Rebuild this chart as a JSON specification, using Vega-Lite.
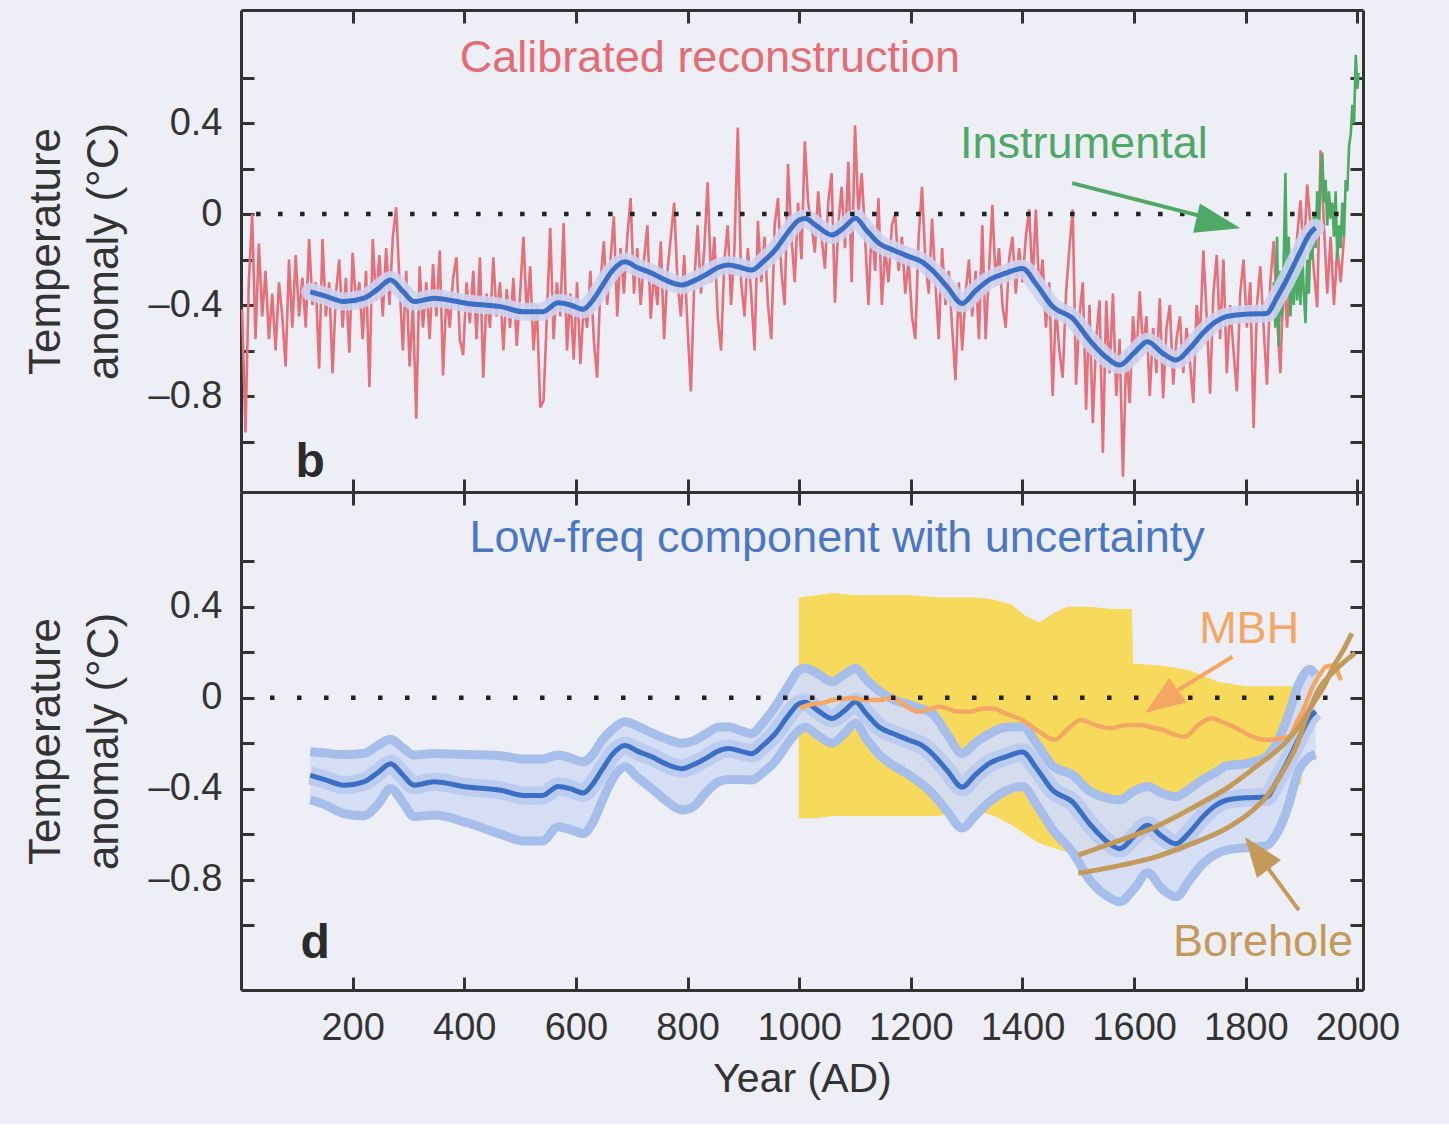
{
"$schema": "https://vega.github.io/schema/vega-lite/v6.json",
"background": "#eeeef7",
"padding": {"left": 24, "top": 8, "right": 80, "bottom": 25},
"spacing": 0,
"bounds": "flush",
"config": {
 "font": "Liberation Sans",
 "view": {"stroke": null},
 "axis": {"domainColor": "#333333", "domainWidth": 3, "tickColor": "#333333", "tickWidth": 3, "tickSize": -13, "labelPadding": 32, "labelFont": "Liberation Sans", "labelFontSize": 38, "labelColor": "#333333", "titleFont": "Liberation Sans", "titleFontSize": 44, "titleColor": "#333333", "titleFontWeight": "normal", "grid": false, "labelFlush": false, "labelOverlap": false, "titleLineHeight": 58, "titlePadding": 22}
},
"datasets": {
 "red": [
{"yr":2,"v":-0.42},{"yr":8,"v":-0.96},{"yr":14,"v":-0.30},{"yr":20,"v":0.0},{"yr":26,"v":-0.55},{"yr":32,"v":-0.13},{"yr":38,"v":-0.45},{"yr":44,"v":-0.25},{"yr":50,"v":-0.55},{"yr":56,"v":-0.35},{"yr":62,"v":-0.60},{"yr":68,"v":-0.30},{"yr":74,"v":-0.45},{"yr":80,"v":-0.67},{"yr":86,"v":-0.20},{"yr":92,"v":-0.50},{"yr":98,"v":-0.18},{"yr":104,"v":-0.45},{"yr":110,"v":-0.28},{"yr":116,"v":-0.50},{"yr":122,"v":-0.11},{"yr":128,"v":-0.40},{"yr":134,"v":-0.30},{"yr":140,"v":-0.68},{"yr":146,"v":-0.11},{"yr":152,"v":-0.45},{"yr":158,"v":-0.30},{"yr":164,"v":-0.70},{"yr":170,"v":-0.35},{"yr":176,"v":-0.20},{"yr":182,"v":-0.50},{"yr":188,"v":-0.28},{"yr":194,"v":-0.61},{"yr":200,"v":-0.17},{"yr":206,"v":-0.40},{"yr":212,"v":-0.30},{"yr":218,"v":-0.55},{"yr":224,"v":-0.25},{"yr":230,"v":-0.76},{"yr":236,"v":-0.11},{"yr":242,"v":-0.38},{"yr":248,"v":-0.18},{"yr":254,"v":-0.45},{"yr":260,"v":-0.15},{"yr":266,"v":-0.40},{"yr":272,"v":-0.10},{"yr":278,"v":0.03},{"yr":284,"v":-0.30},{"yr":290,"v":-0.60},{"yr":296,"v":-0.25},{"yr":302,"v":-0.67},{"yr":308,"v":-0.40},{"yr":314,"v":-0.90},{"yr":320,"v":-0.23},{"yr":326,"v":-0.50},{"yr":332,"v":-0.30},{"yr":338,"v":-0.55},{"yr":344,"v":-0.22},{"yr":350,"v":-0.45},{"yr":356,"v":-0.16},{"yr":362,"v":-0.71},{"yr":368,"v":-0.35},{"yr":374,"v":-0.50},{"yr":380,"v":-0.28},{"yr":386,"v":-0.19},{"yr":392,"v":-0.55},{"yr":398,"v":-0.62},{"yr":404,"v":-0.30},{"yr":410,"v":-0.48},{"yr":416,"v":-0.25},{"yr":422,"v":-0.55},{"yr":428,"v":-0.19},{"yr":434,"v":-0.72},{"yr":440,"v":-0.35},{"yr":446,"v":-0.50},{"yr":452,"v":-0.19},{"yr":458,"v":-0.45},{"yr":464,"v":-0.30},{"yr":470,"v":-0.60},{"yr":476,"v":-0.33},{"yr":482,"v":-0.50},{"yr":488,"v":-0.28},{"yr":494,"v":-0.58},{"yr":500,"v":-0.35},{"yr":506,"v":-0.10},{"yr":512,"v":-0.45},{"yr":518,"v":-0.23},{"yr":524,"v":-0.60},{"yr":530,"v":-0.40},{"yr":536,"v":-0.85},{"yr":542,"v":-0.82},{"yr":548,"v":-0.45},{"yr":554,"v":-0.06},{"yr":560,"v":-0.55},{"yr":566,"v":-0.30},{"yr":572,"v":-0.45},{"yr":578,"v":-0.04},{"yr":584,"v":-0.60},{"yr":590,"v":-0.35},{"yr":596,"v":-0.64},{"yr":602,"v":-0.30},{"yr":608,"v":-0.66},{"yr":614,"v":-0.40},{"yr":620,"v":-0.50},{"yr":626,"v":-0.25},{"yr":632,"v":-0.55},{"yr":638,"v":-0.72},{"yr":644,"v":-0.30},{"yr":650,"v":-0.12},{"yr":656,"v":-0.40},{"yr":662,"v":-0.20},{"yr":668,"v":-0.01},{"yr":674,"v":-0.45},{"yr":680,"v":-0.15},{"yr":686,"v":-0.35},{"yr":692,"v":-0.10},{"yr":698,"v":0.07},{"yr":704,"v":-0.35},{"yr":710,"v":-0.15},{"yr":716,"v":-0.40},{"yr":722,"v":-0.20},{"yr":728,"v":-0.05},{"yr":734,"v":-0.46},{"yr":740,"v":-0.25},{"yr":746,"v":-0.40},{"yr":752,"v":-0.12},{"yr":758,"v":-0.55},{"yr":764,"v":-0.25},{"yr":770,"v":-0.10},{"yr":776,"v":0.05},{"yr":782,"v":-0.30},{"yr":788,"v":-0.45},{"yr":794,"v":-0.18},{"yr":800,"v":-0.50},{"yr":806,"v":-0.78},{"yr":812,"v":-0.30},{"yr":818,"v":-0.05},{"yr":824,"v":-0.35},{"yr":830,"v":-0.15},{"yr":836,"v":0.14},{"yr":842,"v":-0.30},{"yr":848,"v":-0.10},{"yr":854,"v":-0.45},{"yr":860,"v":-0.60},{"yr":866,"v":-0.20},{"yr":872,"v":-0.05},{"yr":878,"v":-0.40},{"yr":884,"v":-0.15},{"yr":890,"v":0.38},{"yr":896,"v":-0.30},{"yr":902,"v":-0.45},{"yr":908,"v":-0.15},{"yr":914,"v":-0.35},{"yr":920,"v":-0.60},{"yr":926,"v":-0.03},{"yr":932,"v":-0.30},{"yr":938,"v":-0.10},{"yr":944,"v":-0.40},{"yr":950,"v":-0.55},{"yr":956,"v":-0.05},{"yr":962,"v":0.07},{"yr":968,"v":-0.25},{"yr":974,"v":-0.40},{"yr":980,"v":0.22},{"yr":986,"v":-0.10},{"yr":992,"v":-0.30},{"yr":998,"v":0.05},{"yr":1004,"v":-0.20},{"yr":1010,"v":0.32},{"yr":1016,"v":0.05},{"yr":1022,"v":-0.05},{"yr":1028,"v":-0.17},{"yr":1034,"v":0.10},{"yr":1040,"v":-0.10},{"yr":1046,"v":-0.24},{"yr":1052,"v":0.05},{"yr":1058,"v":0.18},{"yr":1064,"v":-0.39},{"yr":1070,"v":-0.05},{"yr":1076,"v":0.12},{"yr":1082,"v":-0.15},{"yr":1088,"v":0.23},{"yr":1094,"v":-0.30},{"yr":1100,"v":0.39},{"yr":1106,"v":0.00},{"yr":1112,"v":0.18},{"yr":1118,"v":-0.10},{"yr":1124,"v":-0.40},{"yr":1130,"v":-0.05},{"yr":1136,"v":-0.25},{"yr":1142,"v":0.07},{"yr":1148,"v":-0.40},{"yr":1154,"v":-0.15},{"yr":1160,"v":-0.30},{"yr":1166,"v":-0.05},{"yr":1172,"v":0.00},{"yr":1178,"v":-0.25},{"yr":1184,"v":-0.10},{"yr":1190,"v":-0.35},{"yr":1196,"v":-0.20},{"yr":1202,"v":-0.45},{"yr":1208,"v":-0.55},{"yr":1214,"v":-0.10},{"yr":1220,"v":0.12},{"yr":1226,"v":-0.20},{"yr":1232,"v":-0.35},{"yr":1238,"v":-0.02},{"yr":1244,"v":-0.30},{"yr":1250,"v":-0.55},{"yr":1256,"v":-0.15},{"yr":1262,"v":-0.40},{"yr":1268,"v":-0.25},{"yr":1274,"v":-0.50},{"yr":1280,"v":-0.73},{"yr":1286,"v":-0.30},{"yr":1292,"v":-0.60},{"yr":1298,"v":-0.35},{"yr":1304,"v":-0.20},{"yr":1310,"v":-0.45},{"yr":1316,"v":-0.25},{"yr":1322,"v":-0.55},{"yr":1328,"v":-0.05},{"yr":1334,"v":-0.55},{"yr":1340,"v":-0.25},{"yr":1346,"v":0.04},{"yr":1352,"v":-0.30},{"yr":1358,"v":-0.15},{"yr":1364,"v":-0.40},{"yr":1370,"v":-0.50},{"yr":1376,"v":-0.20},{"yr":1382,"v":-0.10},{"yr":1388,"v":-0.35},{"yr":1394,"v":-0.15},{"yr":1400,"v":-0.30},{"yr":1406,"v":-0.10},{"yr":1412,"v":0.02},{"yr":1418,"v":-0.30},{"yr":1424,"v":0.02},{"yr":1430,"v":-0.35},{"yr":1436,"v":-0.20},{"yr":1442,"v":-0.50},{"yr":1448,"v":-0.30},{"yr":1454,"v":-0.80},{"yr":1460,"v":-0.40},{"yr":1466,"v":-0.60},{"yr":1472,"v":-0.72},{"yr":1478,"v":-0.35},{"yr":1484,"v":-0.15},{"yr":1490,"v":0.02},{"yr":1496,"v":-0.75},{"yr":1502,"v":-0.45},{"yr":1508,"v":-0.30},{"yr":1514,"v":-0.86},{"yr":1520,"v":-0.40},{"yr":1526,"v":-0.92},{"yr":1532,"v":-0.55},{"yr":1538,"v":-0.38},{"yr":1544,"v":-1.05},{"yr":1550,"v":-0.38},{"yr":1556,"v":-0.70},{"yr":1562,"v":-0.35},{"yr":1568,"v":-0.80},{"yr":1574,"v":-0.55},{"yr":1580,"v":-1.155},{"yr":1586,"v":-0.60},{"yr":1592,"v":-0.83},{"yr":1598,"v":-0.45},{"yr":1604,"v":-0.65},{"yr":1610,"v":-0.34},{"yr":1616,"v":-0.60},{"yr":1622,"v":-0.45},{"yr":1628,"v":-0.80},{"yr":1634,"v":-0.50},{"yr":1640,"v":-0.70},{"yr":1646,"v":-0.37},{"yr":1652,"v":-0.81},{"yr":1658,"v":-0.50},{"yr":1664,"v":-0.40},{"yr":1670,"v":-0.75},{"yr":1676,"v":-0.55},{"yr":1682,"v":-0.45},{"yr":1688,"v":-0.70},{"yr":1694,"v":-0.50},{"yr":1700,"v":-0.65},{"yr":1706,"v":-0.83},{"yr":1712,"v":-0.40},{"yr":1718,"v":-0.55},{"yr":1724,"v":-0.16},{"yr":1730,"v":-0.45},{"yr":1736,"v":-0.79},{"yr":1742,"v":-0.35},{"yr":1748,"v":-0.18},{"yr":1754,"v":-0.55},{"yr":1760,"v":-0.20},{"yr":1766,"v":-0.70},{"yr":1772,"v":-0.40},{"yr":1778,"v":-0.60},{"yr":1784,"v":-0.78},{"yr":1790,"v":-0.35},{"yr":1796,"v":-0.20},{"yr":1802,"v":-0.50},{"yr":1808,"v":-0.30},{"yr":1814,"v":-0.94},{"yr":1820,"v":-0.40},{"yr":1826,"v":-0.23},{"yr":1832,"v":-0.50},{"yr":1838,"v":-0.75},{"yr":1844,"v":-0.30},{"yr":1850,"v":-0.12},{"yr":1856,"v":-0.45},{"yr":1862,"v":-0.70},{"yr":1868,"v":-0.25},{"yr":1874,"v":-0.50},{"yr":1880,"v":-0.20},{"yr":1886,"v":-0.35},{"yr":1892,"v":-0.10},{"yr":1898,"v":0.06},{"yr":1904,"v":-0.20},{"yr":1910,"v":0.13},{"yr":1916,"v":-0.05},{"yr":1922,"v":-0.25},{"yr":1928,"v":-0.41},{"yr":1934,"v":0.28},{"yr":1940,"v":-0.05},{"yr":1946,"v":-0.35},{"yr":1952,"v":-0.10},{"yr":1958,"v":-0.40},{"yr":1964,"v":-0.15},{"yr":1970,"v":-0.30},{"yr":1976,"v":-0.10}
 ],
 "green": [
{"yr":1850,"v":-0.30},{"yr":1853,"v":-0.50},{"yr":1856,"v":-0.10},{"yr":1859,"v":-0.58},{"yr":1862,"v":-0.25},{"yr":1865,"v":-0.45},{"yr":1868,"v":-0.20},{"yr":1871,"v":0.18},{"yr":1874,"v":-0.35},{"yr":1877,"v":-0.10},{"yr":1880,"v":-0.45},{"yr":1883,"v":-0.25},{"yr":1886,"v":-0.40},{"yr":1889,"v":-0.15},{"yr":1892,"v":-0.38},{"yr":1895,"v":-0.20},{"yr":1898,"v":-0.40},{"yr":1901,"v":-0.15},{"yr":1904,"v":-0.35},{"yr":1907,"v":-0.48},{"yr":1910,"v":-0.20},{"yr":1913,"v":-0.35},{"yr":1916,"v":-0.10},{"yr":1919,"v":-0.20},{"yr":1922,"v":0.0},{"yr":1925,"v":-0.15},{"yr":1928,"v":0.10},{"yr":1931,"v":-0.05},{"yr":1934,"v":0.15},{"yr":1937,"v":0.27},{"yr":1940,"v":0.05},{"yr":1943,"v":0.15},{"yr":1946,"v":-0.05},{"yr":1949,"v":0.10},{"yr":1952,"v":-0.02},{"yr":1955,"v":0.05},{"yr":1958,"v":-0.10},{"yr":1961,"v":0.10},{"yr":1964,"v":-0.20},{"yr":1967,"v":-0.05},{"yr":1970,"v":-0.15},{"yr":1973,"v":0.05},{"yr":1976,"v":-0.10},{"yr":1979,"v":0.15},{"yr":1982,"v":0.10},{"yr":1985,"v":0.30},{"yr":1988,"v":0.35},{"yr":1991,"v":0.48},{"yr":1994,"v":0.40},{"yr":1997,"v":0.70},{"yr":2000,"v":0.55},{"yr":2002,"v":0.62}
 ],
 "lf": [
{"yr":124,"mid":-0.342,"lo":-0.45,"hi":-0.238},{"yr":150,"mid":-0.36,"lo":-0.47,"hi":-0.243},{"yr":184,"mid":-0.385,"lo":-0.51,"hi":-0.25},{"yr":220,"mid":-0.37,"lo":-0.52,"hi":-0.245},{"yr":245,"mid":-0.33,"lo":-0.47,"hi":-0.21},{"yr":268,"mid":-0.29,"lo":-0.40,"hi":-0.183},{"yr":290,"mid":-0.34,"lo":-0.46,"hi":-0.22},{"yr":310,"mid":-0.385,"lo":-0.523,"hi":-0.252},{"yr":346,"mid":-0.37,"lo":-0.516,"hi":-0.245},{"yr":405,"mid":-0.393,"lo":-0.55,"hi":-0.25},{"yr":465,"mid":-0.407,"lo":-0.60,"hi":-0.255},{"yr":507,"mid":-0.43,"lo":-0.63,"hi":-0.27},{"yr":540,"mid":-0.43,"lo":-0.63,"hi":-0.27},{"yr":568,"mid":-0.39,"lo":-0.567,"hi":-0.252},{"yr":590,"mid":-0.40,"lo":-0.58,"hi":-0.265},{"yr":613,"mid":-0.419,"lo":-0.597,"hi":-0.282},{"yr":630,"mid":-0.38,"lo":-0.55,"hi":-0.25},{"yr":646,"mid":-0.32,"lo":-0.46,"hi":-0.19},{"yr":665,"mid":-0.25,"lo":-0.36,"hi":-0.14},{"yr":688,"mid":-0.21,"lo":-0.304,"hi":-0.106},{"yr":710,"mid":-0.235,"lo":-0.35,"hi":-0.125},{"yr":736,"mid":-0.26,"lo":-0.40,"hi":-0.155},{"yr":760,"mid":-0.29,"lo":-0.45,"hi":-0.18},{"yr":790,"mid":-0.312,"lo":-0.494,"hi":-0.2},{"yr":810,"mid":-0.295,"lo":-0.48,"hi":-0.19},{"yr":832,"mid":-0.268,"lo":-0.42,"hi":-0.16},{"yr":855,"mid":-0.235,"lo":-0.37,"hi":-0.13},{"yr":873,"mid":-0.224,"lo":-0.36,"hi":-0.128},{"yr":895,"mid":-0.235,"lo":-0.36,"hi":-0.145},{"yr":915,"mid":-0.246,"lo":-0.362,"hi":-0.157},{"yr":935,"mid":-0.21,"lo":-0.33,"hi":-0.11},{"yr":957,"mid":-0.158,"lo":-0.28,"hi":-0.04},{"yr":980,"mid":-0.08,"lo":-0.2,"hi":0.05},{"yr":1000,"mid":-0.026,"lo":-0.142,"hi":0.121},{"yr":1011,"mid":-0.02,"lo":-0.13,"hi":0.129},{"yr":1030,"mid":-0.05,"lo":-0.16,"hi":0.11},{"yr":1059,"mid":-0.092,"lo":-0.2,"hi":0.07},{"yr":1080,"mid":-0.06,"lo":-0.16,"hi":0.1},{"yr":1101,"mid":-0.019,"lo":-0.113,"hi":0.129},{"yr":1120,"mid":-0.07,"lo":-0.18,"hi":0.08},{"yr":1143,"mid":-0.129,"lo":-0.25,"hi":0.03},{"yr":1170,"mid":-0.16,"lo":-0.30,"hi":-0.01},{"yr":1197,"mid":-0.187,"lo":-0.34,"hi":-0.03},{"yr":1220,"mid":-0.21,"lo":-0.38,"hi":-0.05},{"yr":1238,"mid":-0.246,"lo":-0.42,"hi":-0.068},{"yr":1265,"mid":-0.32,"lo":-0.50,"hi":-0.16},{"yr":1292,"mid":-0.393,"lo":-0.573,"hi":-0.245},{"yr":1315,"mid":-0.34,"lo":-0.52,"hi":-0.2},{"yr":1340,"mid":-0.29,"lo":-0.46,"hi":-0.16},{"yr":1370,"mid":-0.26,"lo":-0.41,"hi":-0.13},{"yr":1400,"mid":-0.239,"lo":-0.39,"hi":-0.128},{"yr":1425,"mid":-0.31,"lo":-0.47,"hi":-0.2},{"yr":1454,"mid":-0.407,"lo":-0.58,"hi":-0.3},{"yr":1490,"mid":-0.459,"lo":-0.68,"hi":-0.34},{"yr":1520,"mid":-0.554,"lo":-0.80,"hi":-0.41},{"yr":1550,"mid":-0.63,"lo":-0.87,"hi":-0.44},{"yr":1574,"mid":-0.664,"lo":-0.897,"hi":-0.45},{"yr":1600,"mid":-0.61,"lo":-0.84,"hi":-0.41},{"yr":1624,"mid":-0.561,"lo":-0.77,"hi":-0.39},{"yr":1650,"mid":-0.61,"lo":-0.84,"hi":-0.42},{"yr":1675,"mid":-0.642,"lo":-0.875,"hi":-0.435},{"yr":1700,"mid":-0.59,"lo":-0.80,"hi":-0.40},{"yr":1723,"mid":-0.524,"lo":-0.73,"hi":-0.36},{"yr":1745,"mid":-0.475,"lo":-0.69,"hi":-0.33},{"yr":1765,"mid":-0.451,"lo":-0.67,"hi":-0.3},{"yr":1800,"mid":-0.44,"lo":-0.66,"hi":-0.29},{"yr":1837,"mid":-0.437,"lo":-0.65,"hi":-0.26},{"yr":1855,"mid":-0.37,"lo":-0.6,"hi":-0.2},{"yr":1873,"mid":-0.29,"lo":-0.5,"hi":-0.1},{"yr":1895,"mid":-0.18,"lo":-0.32,"hi":0.06},{"yr":1915,"mid":-0.085,"lo":-0.26,"hi":0.125},{"yr":1925,"mid":-0.06,"lo":-0.25,"hi":0.1}
 ],
 "yellow": [
{"yr":999,"top":0.44,"bot":-0.53},{"yr":1030,"top":0.45,"bot":-0.53},{"yr":1060,"top":0.46,"bot":-0.52},{"yr":1100,"top":0.45,"bot":-0.52},{"yr":1150,"top":0.45,"bot":-0.52},{"yr":1200,"top":0.45,"bot":-0.52},{"yr":1250,"top":0.44,"bot":-0.52},{"yr":1280,"top":0.44,"bot":-0.5},{"yr":1320,"top":0.44,"bot":-0.5},{"yr":1350,"top":0.43,"bot":-0.52},{"yr":1380,"top":0.41,"bot":-0.56},{"yr":1405,"top":0.36,"bot":-0.6},{"yr":1430,"top":0.33,"bot":-0.64},{"yr":1455,"top":0.37,"bot":-0.66},{"yr":1480,"top":0.40,"bot":-0.68},{"yr":1520,"top":0.40,"bot":-0.70},{"yr":1560,"top":0.39,"bot":-0.70},{"yr":1596,"top":0.39,"bot":-0.68},{"yr":1598,"top":0.15,"bot":-0.68},{"yr":1650,"top":0.14,"bot":-0.62},{"yr":1700,"top":0.12,"bot":-0.56},{"yr":1750,"top":0.07,"bot":-0.5},{"yr":1800,"top":0.05,"bot":-0.45},{"yr":1850,"top":0.05,"bot":-0.42},{"yr":1880,"top":0.05,"bot":-0.40},{"yr":1900,"top":0.05,"bot":-0.38}
 ],
 "mbh": [
{"yr":1001,"v":-0.047},{"yr":1020,"v":-0.03},{"yr":1040,"v":-0.024},{"yr":1060,"v":-0.01},{"yr":1080,"v":-0.005},{"yr":1094,"v":-0.002},{"yr":1120,"v":-0.01},{"yr":1146,"v":-0.01},{"yr":1166,"v":0.0},{"yr":1190,"v":-0.035},{"yr":1213,"v":-0.062},{"yr":1233,"v":-0.05},{"yr":1253,"v":-0.04},{"yr":1280,"v":-0.06},{"yr":1306,"v":-0.062},{"yr":1325,"v":-0.05},{"yr":1345,"v":-0.047},{"yr":1370,"v":-0.07},{"yr":1399,"v":-0.098},{"yr":1430,"v":-0.15},{"yr":1458,"v":-0.186},{"yr":1480,"v":-0.14},{"yr":1505,"v":-0.098},{"yr":1530,"v":-0.12},{"yr":1558,"v":-0.135},{"yr":1585,"v":-0.12},{"yr":1611,"v":-0.12},{"yr":1630,"v":-0.13},{"yr":1651,"v":-0.142},{"yr":1670,"v":-0.16},{"yr":1691,"v":-0.172},{"yr":1715,"v":-0.12},{"yr":1738,"v":-0.091},{"yr":1760,"v":-0.11},{"yr":1784,"v":-0.135},{"yr":1810,"v":-0.17},{"yr":1837,"v":-0.186},{"yr":1860,"v":-0.18},{"yr":1877,"v":-0.172},{"yr":1893,"v":-0.1},{"yr":1903,"v":-0.054},{"yr":1915,"v":0.02},{"yr":1923,"v":0.063},{"yr":1935,"v":0.11},{"yr":1943,"v":0.136},{"yr":1955,"v":0.14},{"yr":1963,"v":0.121},{"yr":1970,"v":0.077}
 ],
 "bore": [
{"yr":1500,"v":-0.692,"c":"a"},{"yr":1560,"v":-0.64,"c":"a"},{"yr":1639,"v":-0.567,"c":"a"},{"yr":1700,"v":-0.49,"c":"a"},{"yr":1771,"v":-0.39,"c":"a"},{"yr":1820,"v":-0.3,"c":"a"},{"yr":1870,"v":-0.2,"c":"a"},{"yr":1900,"v":-0.11,"c":"a"},{"yr":1917,"v":-0.04,"c":"a"},{"yr":1940,"v":0.05,"c":"a"},{"yr":1957,"v":0.136,"c":"a"},{"yr":1975,"v":0.21,"c":"a"},{"yr":1990,"v":0.283,"c":"a"},
{"yr":1500,"v":-0.772,"c":"b"},{"yr":1560,"v":-0.745,"c":"b"},{"yr":1639,"v":-0.7,"c":"b"},{"yr":1700,"v":-0.645,"c":"b"},{"yr":1771,"v":-0.567,"c":"b"},{"yr":1810,"v":-0.5,"c":"b"},{"yr":1837,"v":-0.435,"c":"b"},{"yr":1865,"v":-0.33,"c":"b"},{"yr":1890,"v":-0.216,"c":"b"},{"yr":1910,"v":-0.08,"c":"b"},{"yr":1930,"v":0.033,"c":"b"},{"yr":1960,"v":0.12,"c":"b"},{"yr":1996,"v":0.196,"c":"b"}
 ]
},
"vconcat": [
 {
  "width": 1122, "height": 482,
  "resolve": {"axis": {"x": "independent", "y": "independent"}},
  "layer": [
   {"data": {"name": "red"}, "mark": {"type": "line", "color": "#e6707a", "strokeWidth": 2.6},
    "encoding": {
     "x": {"field": "yr", "type": "quantitative", "scale": {"domain": [0, 2010], "nice": false, "zero": false},
           "axis": {"orient": "bottom", "values": [200,400,600,800,1000,1200,1400,1600,1800,2000], "labels": false, "title": null}},
     "y": {"field": "v", "type": "quantitative", "scale": {"domain": [-1.222, 0.897], "nice": false, "zero": false},
           "axis": {"orient": "left", "values": [-1,-0.8,-0.6,-0.4,-0.2,0,0.2,0.4,0.6], "labelExpr": "datum.value > 0.35 && datum.value < 0.45 ? '0.4' : abs(datum.value) < 0.01 ? '0' : (datum.value < -0.35 && datum.value > -0.45) ? '–0.4' : (datum.value < -0.75 && datum.value > -0.85) ? '–0.8' : ''", "title": ["Temperature", "anomaly (°C)"]}}
    }},
   {"data": {"name": "green"}, "mark": {"type": "line", "color": "#4caa64", "strokeWidth": 2.6},
    "encoding": {
     "x": {"field": "yr", "type": "quantitative", "scale": {"domain": [0, 2010], "nice": false, "zero": false}, "axis": null},
     "y": {"field": "v", "type": "quantitative", "scale": {"domain": [-1.222, 0.897], "nice": false, "zero": false}, "axis": null}
    }},
   {"data": {"name": "lf"}, "mark": {"type": "line", "color": "#cdd3f1", "strokeWidth": 18, "opacity": 0.9, "strokeCap": "round", "interpolate": "monotone"},
    "encoding": {
     "x": {"field": "yr", "type": "quantitative", "scale": {"domain": [0, 2010], "nice": false, "zero": false}, "axis": null},
     "y": {"field": "mid", "type": "quantitative", "scale": {"domain": [-1.222, 0.897], "nice": false, "zero": false}, "axis": null}
    }},
   {"data": {"name": "lf"}, "mark": {"type": "line", "color": "#3b6ec5", "strokeWidth": 5, "interpolate": "monotone"},
    "encoding": {
     "x": {"field": "yr", "type": "quantitative", "scale": {"domain": [0, 2010], "nice": false, "zero": false},
           "axis": {"orient": "top", "values": [200,400,600,800,1000,1200,1400,1600,1800,2000], "labels": false, "title": null}},
     "y": {"field": "mid", "type": "quantitative", "scale": {"domain": [-1.222, 0.897], "nice": false, "zero": false},
           "axis": {"orient": "right", "values": [-1,-0.8,-0.6,-0.4,-0.2,0,0.2,0.4,0.6], "labels": false, "title": null}}
    }},
   {"data": {"values": [{"a": 27, "b": 1968, "z": 0}]}, "mark": {"type": "rule", "color": "#222222", "strokeWidth": 4.5, "strokeDash": [4.5, 17.5]},
    "encoding": {
     "x": {"field": "a", "type": "quantitative", "scale": {"domain": [0, 2010], "nice": false, "zero": false}, "axis": null},
     "x2": {"field": "b"},
     "y": {"field": "z", "type": "quantitative", "scale": {"domain": [-1.222, 0.897], "nice": false, "zero": false}, "axis": null}
    }},
   {"data": {"values": [{"yr": 1489, "v": 0.136}, {"yr": 1720, "v": -0.009}]}, "mark": {"type": "line", "color": "#4fa866", "strokeWidth": 4},
    "encoding": {
     "x": {"field": "yr", "type": "quantitative", "scale": {"domain": [0, 2010], "nice": false, "zero": false}, "axis": null},
     "y": {"field": "v", "type": "quantitative", "scale": {"domain": [-1.222, 0.897], "nice": false, "zero": false}, "axis": null}
    }},
   {"data": {"values": [{"yr": 1751, "v": -0.04}]}, "mark": {"type": "point", "shape": "M1,0L-1,-0.67L-1,0.67Z", "size": 2025, "angle": 13, "filled": true, "color": "#4fa866", "opacity": 1},
    "encoding": {
     "x": {"field": "yr", "type": "quantitative", "scale": {"domain": [0, 2010], "nice": false, "zero": false}, "axis": null},
     "y": {"field": "v", "type": "quantitative", "scale": {"domain": [-1.222, 0.897], "nice": false, "zero": false}, "axis": null}
    }},
   {"data": {"values": [{"yr": 840, "v": 0.624, "label": "Calibrated reconstruction"}]}, "mark": {"type": "text", "font": "Liberation Sans", "fontSize": 45, "color": "#e46c72", "align": "center", "baseline": "alphabetic"},
    "encoding": {
     "x": {"field": "yr", "type": "quantitative", "scale": {"domain": [0, 2010], "nice": false, "zero": false}, "axis": null},
     "y": {"field": "v", "type": "quantitative", "scale": {"domain": [-1.222, 0.897], "nice": false, "zero": false}, "axis": null},
     "text": {"field": "label"}
    }},
   {"data": {"values": [{"yr": 1510, "v": 0.246, "label": "Instrumental"}]}, "mark": {"type": "text", "font": "Liberation Sans", "fontSize": 45, "color": "#4fa866", "align": "center", "baseline": "alphabetic"},
    "encoding": {
     "x": {"field": "yr", "type": "quantitative", "scale": {"domain": [0, 2010], "nice": false, "zero": false}, "axis": null},
     "y": {"field": "v", "type": "quantitative", "scale": {"domain": [-1.222, 0.897], "nice": false, "zero": false}, "axis": null},
     "text": {"field": "label"}
    }},
   {"data": {"values": [{"yr": 124, "v": -1.156, "label": "b"}]}, "mark": {"type": "text", "font": "Liberation Sans", "fontSize": 48, "fontWeight": "bold", "color": "#2b2b2b", "align": "center", "baseline": "alphabetic"},
    "encoding": {
     "x": {"field": "yr", "type": "quantitative", "scale": {"domain": [0, 2010], "nice": false, "zero": false}, "axis": null},
     "y": {"field": "v", "type": "quantitative", "scale": {"domain": [-1.222, 0.897], "nice": false, "zero": false}, "axis": null},
     "text": {"field": "label"}
    }}
  ]
 },
 {
  "width": 1122, "height": 498,
  "resolve": {"axis": {"x": "independent", "y": "independent"}},
  "layer": [
   {"data": {"name": "yellow"}, "mark": {"type": "area", "color": "#f7d95c", "opacity": 1},
    "encoding": {
     "x": {"field": "yr", "type": "quantitative", "scale": {"domain": [0, 2010], "nice": false, "zero": false},
           "axis": {"orient": "bottom", "values": [200,400,600,800,1000,1200,1400,1600,1800,2000], "format": "d", "title": "Year (AD)", "titleFontSize": 41, "titlePadding": 12, "labelFontSize": 38}},
     "y": {"field": "top", "type": "quantitative", "scale": {"domain": [-1.285, 0.904], "nice": false, "zero": false},
           "axis": {"orient": "left", "values": [-1,-0.8,-0.6,-0.4,-0.2,0,0.2,0.4,0.6], "labelExpr": "datum.value > 0.35 && datum.value < 0.45 ? '0.4' : abs(datum.value) < 0.01 ? '0' : (datum.value < -0.35 && datum.value > -0.45) ? '–0.4' : (datum.value < -0.75 && datum.value > -0.85) ? '–0.8' : ''", "title": ["Temperature", "anomaly (°C)"]}},
     "y2": {"field": "bot"}
    }},
   {"data": {"name": "lf"}, "mark": {"type": "area", "color": "#d3dcf4", "opacity": 0.95, "interpolate": "monotone"},
    "encoding": {
     "x": {"field": "yr", "type": "quantitative", "scale": {"domain": [0, 2010], "nice": false, "zero": false}, "axis": null},
     "y": {"field": "hi", "type": "quantitative", "scale": {"domain": [-1.285, 0.904], "nice": false, "zero": false}, "axis": null},
     "y2": {"field": "lo"}
    }},
   {"data": {"name": "lf"}, "mark": {"type": "line", "color": "#a7bdea", "strokeWidth": 9, "interpolate": "monotone"},
    "encoding": {
     "x": {"field": "yr", "type": "quantitative", "scale": {"domain": [0, 2010], "nice": false, "zero": false}, "axis": null},
     "y": {"field": "hi", "type": "quantitative", "scale": {"domain": [-1.285, 0.904], "nice": false, "zero": false}, "axis": null}
    }},
   {"data": {"name": "lf"}, "mark": {"type": "line", "color": "#a7bdea", "strokeWidth": 9, "interpolate": "monotone"},
    "encoding": {
     "x": {"field": "yr", "type": "quantitative", "scale": {"domain": [0, 2010], "nice": false, "zero": false}, "axis": null},
     "y": {"field": "lo", "type": "quantitative", "scale": {"domain": [-1.285, 0.904], "nice": false, "zero": false}, "axis": null}
    }},
   {"data": {"name": "lf"}, "mark": {"type": "line", "color": "#bccbf0", "strokeWidth": 18, "interpolate": "monotone"},
    "encoding": {
     "x": {"field": "yr", "type": "quantitative", "scale": {"domain": [0, 2010], "nice": false, "zero": false}, "axis": null},
     "y": {"field": "mid", "type": "quantitative", "scale": {"domain": [-1.285, 0.904], "nice": false, "zero": false}, "axis": null}
    }},
   {"data": {"name": "lf"}, "mark": {"type": "line", "color": "#3b6ec5", "strokeWidth": 5, "interpolate": "monotone"},
    "encoding": {
     "x": {"field": "yr", "type": "quantitative", "scale": {"domain": [0, 2010], "nice": false, "zero": false},
           "axis": {"orient": "top", "values": [200,400,600,800,1000,1200,1400,1600,1800,2000], "labels": false, "title": null}},
     "y": {"field": "mid", "type": "quantitative", "scale": {"domain": [-1.285, 0.904], "nice": false, "zero": false},
           "axis": {"orient": "right", "values": [-1,-0.8,-0.6,-0.4,-0.2,0,0.2,0.4,0.6], "labels": false, "title": null}}
    }},
   {"data": {"name": "mbh"}, "mark": {"type": "line", "color": "#f4a765", "strokeWidth": 4.5, "interpolate": "monotone"},
    "encoding": {
     "x": {"field": "yr", "type": "quantitative", "scale": {"domain": [0, 2010], "nice": false, "zero": false}, "axis": null},
     "y": {"field": "v", "type": "quantitative", "scale": {"domain": [-1.285, 0.904], "nice": false, "zero": false}, "axis": null}
    }},
   {"data": {"name": "bore"}, "mark": {"type": "line", "color": "#c49a5a", "strokeWidth": 5, "interpolate": "monotone"},
    "encoding": {
     "x": {"field": "yr", "type": "quantitative", "scale": {"domain": [0, 2010], "nice": false, "zero": false}, "axis": null},
     "y": {"field": "v", "type": "quantitative", "scale": {"domain": [-1.285, 0.904], "nice": false, "zero": false}, "axis": null},
     "detail": {"field": "c"}
    }},
   {"data": {"values": [{"a": 52, "b": 1968, "z": 0}]}, "mark": {"type": "rule", "color": "#222222", "strokeWidth": 4.5, "strokeDash": [4.5, 22.5]},
    "encoding": {
     "x": {"field": "a", "type": "quantitative", "scale": {"domain": [0, 2010], "nice": false, "zero": false}, "axis": null},
     "x2": {"field": "b"},
     "y": {"field": "z", "type": "quantitative", "scale": {"domain": [-1.285, 0.904], "nice": false, "zero": false}, "axis": null}
    }},
   {"data": {"values": [{"yr": 1776, "v": 0.18}, {"yr": 1679, "v": 0.034}]}, "mark": {"type": "line", "color": "#f4a765", "strokeWidth": 4},
    "encoding": {
     "x": {"field": "yr", "type": "quantitative", "scale": {"domain": [0, 2010], "nice": false, "zero": false}, "axis": null},
     "y": {"field": "v", "type": "quantitative", "scale": {"domain": [-1.285, 0.904], "nice": false, "zero": false}, "axis": null}
    }},
   {"data": {"values": [{"yr": 1649, "v": -0.017}]}, "mark": {"type": "point", "shape": "M1,0L-1,-0.75L-1,0.75Z", "size": 1600, "angle": 145, "filled": true, "color": "#f4a765", "opacity": 1},
    "encoding": {
     "x": {"field": "yr", "type": "quantitative", "scale": {"domain": [0, 2010], "nice": false, "zero": false}, "axis": null},
     "y": {"field": "v", "type": "quantitative", "scale": {"domain": [-1.285, 0.904], "nice": false, "zero": false}, "axis": null}
    }},
   {"data": {"values": [{"yr": 1895, "v": -0.934}, {"yr": 1833, "v": -0.727}]}, "mark": {"type": "line", "color": "#c49a5a", "strokeWidth": 4},
    "encoding": {
     "x": {"field": "yr", "type": "quantitative", "scale": {"domain": [0, 2010], "nice": false, "zero": false}, "axis": null},
     "y": {"field": "v", "type": "quantitative", "scale": {"domain": [-1.285, 0.904], "nice": false, "zero": false}, "axis": null}
    }},
   {"data": {"values": [{"yr": 1820, "v": -0.683}]}, "mark": {"type": "point", "shape": "M1,0L-1,-0.75L-1,0.75Z", "size": 1600, "angle": 233, "filled": true, "color": "#c49a5a", "opacity": 1},
    "encoding": {
     "x": {"field": "yr", "type": "quantitative", "scale": {"domain": [0, 2010], "nice": false, "zero": false}, "axis": null},
     "y": {"field": "v", "type": "quantitative", "scale": {"domain": [-1.285, 0.904], "nice": false, "zero": false}, "axis": null}
    }},
   {"data": {"values": [{"yr": 1068, "v": 0.64, "label": "Low-freq component with uncertainty"}]}, "mark": {"type": "text", "font": "Liberation Sans", "fontSize": 45, "color": "#4a76c6", "align": "center", "baseline": "alphabetic"},
    "encoding": {
     "x": {"field": "yr", "type": "quantitative", "scale": {"domain": [0, 2010], "nice": false, "zero": false}, "axis": null},
     "y": {"field": "v", "type": "quantitative", "scale": {"domain": [-1.285, 0.904], "nice": false, "zero": false}, "axis": null},
     "text": {"field": "label"}
    }},
   {"data": {"values": [{"yr": 1806, "v": 0.24, "label": "MBH"}]}, "mark": {"type": "text", "font": "Liberation Sans", "fontSize": 45, "color": "#f4a765", "align": "center", "baseline": "alphabetic"},
    "encoding": {
     "x": {"field": "yr", "type": "quantitative", "scale": {"domain": [0, 2010], "nice": false, "zero": false}, "axis": null},
     "y": {"field": "v", "type": "quantitative", "scale": {"domain": [-1.285, 0.904], "nice": false, "zero": false}, "axis": null},
     "text": {"field": "label"}
    }},
   {"data": {"values": [{"yr": 1831, "v": -1.135, "label": "Borehole"}]}, "mark": {"type": "text", "font": "Liberation Sans", "fontSize": 45, "color": "#c49a5a", "align": "center", "baseline": "alphabetic"},
    "encoding": {
     "x": {"field": "yr", "type": "quantitative", "scale": {"domain": [0, 2010], "nice": false, "zero": false}, "axis": null},
     "y": {"field": "v", "type": "quantitative", "scale": {"domain": [-1.285, 0.904], "nice": false, "zero": false}, "axis": null},
     "text": {"field": "label"}
    }},
   {"data": {"values": [{"yr": 133, "v": -1.144, "label": "d"}]}, "mark": {"type": "text", "font": "Liberation Sans", "fontSize": 48, "fontWeight": "bold", "color": "#2b2b2b", "align": "center", "baseline": "alphabetic"},
    "encoding": {
     "x": {"field": "yr", "type": "quantitative", "scale": {"domain": [0, 2010], "nice": false, "zero": false}, "axis": null},
     "y": {"field": "v", "type": "quantitative", "scale": {"domain": [-1.285, 0.904], "nice": false, "zero": false}, "axis": null},
     "text": {"field": "label"}
    }}
  ]
 }
]
}
